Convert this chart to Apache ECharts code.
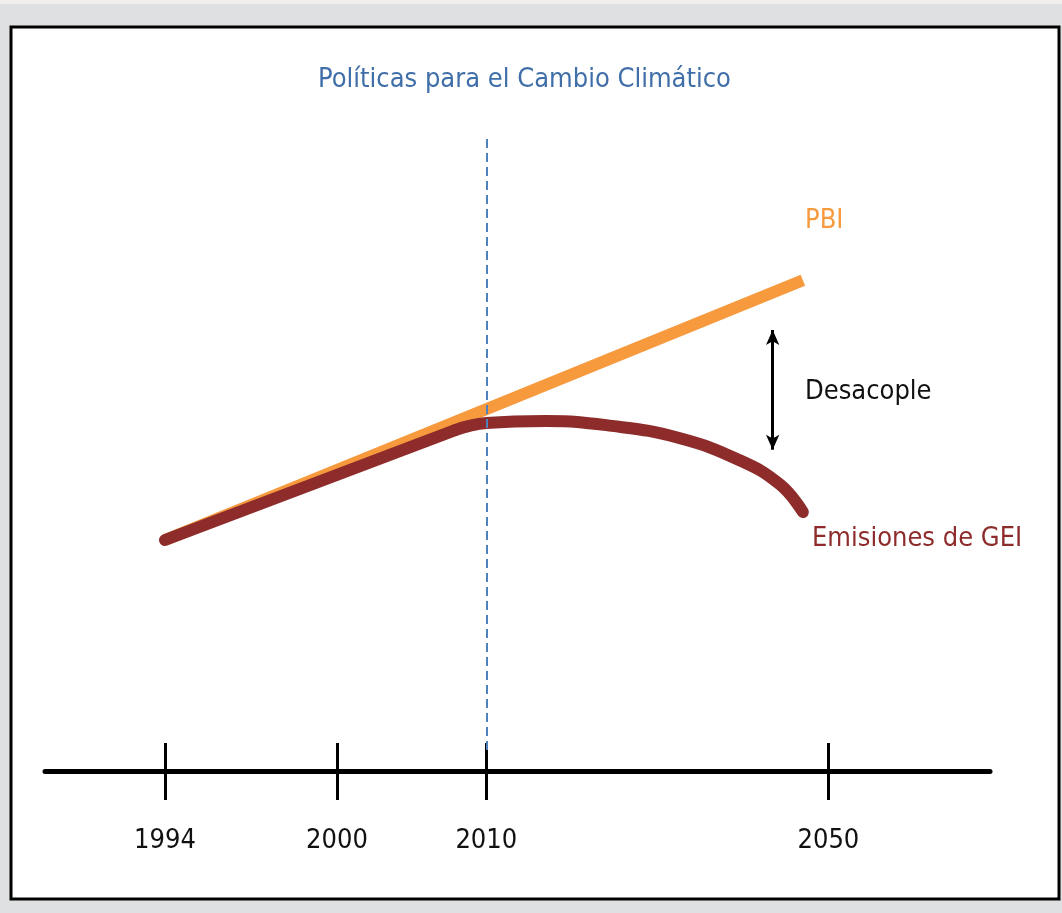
<!DOCTYPE html>
<html>
<head>
<meta charset="utf-8">
<script src="https://cdn.jsdelivr.net/npm/echarts@6/dist/echarts.min.js"></script>
<style>
  html, body { margin: 0; padding: 0; background: #dfe0e1; }
  #chart { width: 1062px; height: 913px; }
</style>
</head>
<body>
<div id="chart"></div>
<script>
// ejes en unidades esquemáticas (0-100), los años no están a escala
var years = ['1994', '2000', '2010', '2050'];
var yearPos = [12.7, 30.9, 46.7, 82.9];

// PBI: recta
var pbiX = [12.7, 80.2];
var pbiY = [33.0, 70.1];

// Emisiones de GEI: tramo que acompaña al PBI...
var geiRiseX = [12.7, 43.4];
var geiRiseY = [33.0, 48.7];
// ...y tramo curvo después de 2010
var geiFallX = [43.4, 46.7, 53.0, 60.0, 67.0, 73.5, 77.8, 80.2];
var geiFallY = [48.7, 49.7, 50.0, 49.3, 47.6, 44.4, 40.9, 37.0];

// línea de políticas (2010) y flecha de desacople
var policyX = 46.7;
var policyY = [3, 90.4];
var arrowX = 77.0;
var arrowY = [45.9, 63.0];

var font = '"DejaVu Sans Condensed", "Liberation Sans Narrow", sans-serif';

function pairs(xs, ys) {
  return xs.map(function (x, i) { return [x, ys[i]]; });
}

var myChart = echarts.init(document.getElementById('chart'));

var option = {
  backgroundColor: '#dfe0e1',
  animation: false,
  title: {
    text: 'Políticas para el Cambio Climático',
    left: 313,
    top: 61,
    textStyle: { color: '#3f6ea8', fontSize: 27, fontWeight: 'normal', fontFamily: font }
  },
  graphic: [
    { type: 'rect', z: -10, shape: { x: 0, y: 0, width: 1062, height: 4 }, style: { fill: '#f0efeb' } },
    { type: 'rect', z: -9, shape: { x: 11, y: 27, width: 1048, height: 872 }, style: { fill: '#fff', stroke: '#000', lineWidth: 3 } },
    { type: 'text', left: 805, top: 207, style: { text: 'PBI', fill: '#f79a3e', font: '27px ' + font } },
    { type: 'text', left: 805, top: 378, style: { text: 'Desacople', fill: '#111', font: '27px ' + font } },
    { type: 'text', left: 812, top: 525, style: { text: 'Emisiones de GEI', fill: '#8e2b2b', font: '27px ' + font } }
  ],
  grid: { left: 45, right: 72, top: 71, bottom: 142 },
  xAxis: [
    {
      type: 'value', min: 0, max: 100, position: 'bottom',
      splitLine: { show: false },
      axisLine: { lineStyle: { color: '#000', width: 5 } },
      axisTick: { show: true, customValues: yearPos, length: 28, inside: true, lineStyle: { color: '#000', width: 3 } },
      axisLabel: {
        customValues: yearPos, margin: 56, color: '#111', fontSize: 27, fontFamily: font,
        formatter: function (v) {
          var i = yearPos.indexOf(v);
          return i >= 0 ? years[i] : '';
        }
      }
    },
    {
      type: 'value', min: 0, max: 100, position: 'bottom', offset: 0,
      splitLine: { show: false },
      axisLine: { show: false },
      axisTick: { show: true, customValues: yearPos, length: 29, lineStyle: { color: '#000', width: 3 } },
      axisLabel: { show: false }
    }
  ],
  yAxis: { type: 'value', min: 0, max: 100, show: false },
  series: [
    {
      name: 'PBI', type: 'line', xAxisIndex: 0, symbol: 'none',
      lineStyle: { color: '#f79a3e', width: 12, cap: 'butt' },
      data: pairs(pbiX, pbiY),
      markLine: {
        silent: true, symbol: 'none', label: { show: false },
        lineStyle: { color: '#4f81bd', width: 2, type: [9, 5] },
        data: [[{ coord: [policyX, policyY[0]] }, { coord: [policyX, policyY[1]] }]]
      },
      z: 2
    },
    {
      name: 'Emisiones de GEI', type: 'line', xAxisIndex: 0, symbol: 'none',
      lineStyle: { color: '#8e2b2b', width: 12, cap: 'round' },
      data: pairs(geiRiseX, geiRiseY),
      z: 3
    },
    {
      name: 'Emisiones de GEI', type: 'line', xAxisIndex: 0, symbol: 'none', smooth: 0.45,
      lineStyle: { color: '#8e2b2b', width: 12, cap: 'round' },
      data: pairs(geiFallX, geiFallY),
      markLine: {
        silent: true, symbol: ['arrow', 'arrow'], symbolSize: [10, 15], label: { show: false },
        lineStyle: { color: '#000', width: 3, type: 'solid' },
        data: [[{ coord: [arrowX, arrowY[0]] }, { coord: [arrowX, arrowY[1]] }]]
      },
      z: 3
    }
  ]
};

myChart.setOption(option);
</script>
</body>
</html>
